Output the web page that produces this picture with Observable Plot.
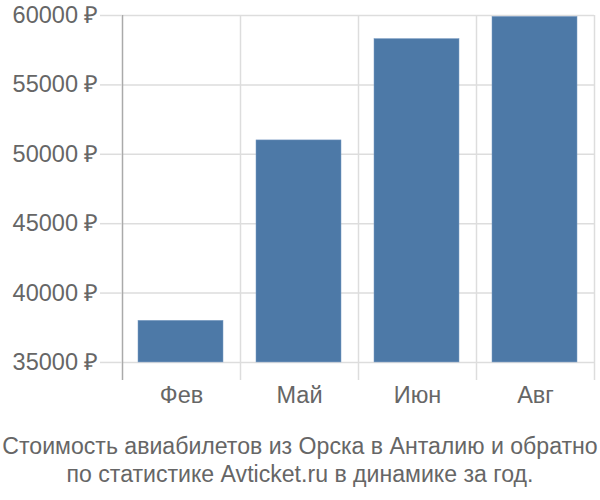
<!DOCTYPE html>
<html>
<head>
<meta charset="utf-8">
<script src="https://cdn.jsdelivr.net/npm/d3@7"></script>
<script src="https://cdn.jsdelivr.net/npm/@observablehq/plot@0.6"></script>
<style>
  body { margin: 0; background: #fff; }
  #chart { width: 600px; }
  .caption { font-family: "Liberation Sans", Arial, sans-serif; font-size: 23.1px; line-height: 28px; color: #666; text-align: center; margin-top: 22px; white-space: nowrap; }
</style>
</head>
<body>
<div id="chart"></div>
<script>
const months = ["Фев", "Май", "Июн", "Авг"];
const prices = [38000, 51000, 58300, 59900];
const yTicks = [35000, 40000, 45000, 50000, 55000, 60000];
const captionLines = ["Стоимость авиабилетов из Орска в Анталию и обратно", "по статистике Avticket.ru в динамике за год."];

const data = months.map((m, i) => ({month: m, price: prices[i]}));
const W = 600, ML = 122, MR = 6;
const step = (W - ML - MR) / months.length;

const plot = Plot.plot({
  width: W,
  height: 410,
  marginTop: 15,
  marginBottom: 30,
  marginLeft: ML,
  marginRight: MR,
  style: {fontFamily: "'Liberation Sans', Arial, sans-serif", background: "#fff"},
  x: {domain: months, padding: 0, label: null},
  y: {domain: [33700, 60000], label: null},
  marks: [
    Plot.gridY(yTicks, {stroke: "#ddd", strokeOpacity: 1, strokeWidth: 1.5}),
    Plot.ruleX(months.slice(1), {x: d => d, dx: -step / 2, stroke: "#ddd", strokeWidth: 1.5}),
    Plot.ruleX([months[months.length - 1]], {x: d => d, dx: step / 2, stroke: "#ddd", strokeWidth: 1.5}),
    Plot.barY(data, {x: "month", y1: 35000, y2: "price", fill: "#4d79a7", stroke: "#7a9cc4", strokeWidth: 0.5, insetLeft: 16, insetRight: 17}),
    Plot.ruleX([months[0]], {x: d => d, dx: -step / 2, stroke: "#aaa", strokeWidth: 1.5}),
    Plot.axisY(yTicks, {tickSize: 22, tickPadding: 2, stroke: "#ddd", strokeWidth: 1.5, fill: "#666", fontSize: 23.5, tickFormat: d => `${d} ₽`, label: null}),
    Plot.axisX({tickSize: 0, tickPadding: 6, fill: "#666", fontSize: 23.5, label: null})
  ]
});
document.getElementById("chart").appendChild(plot);
const cap = document.createElement("div");
cap.className = "caption";
cap.innerHTML = captionLines.join("<br>");
document.getElementById("chart").appendChild(cap);
</script>
</body>
</html>
